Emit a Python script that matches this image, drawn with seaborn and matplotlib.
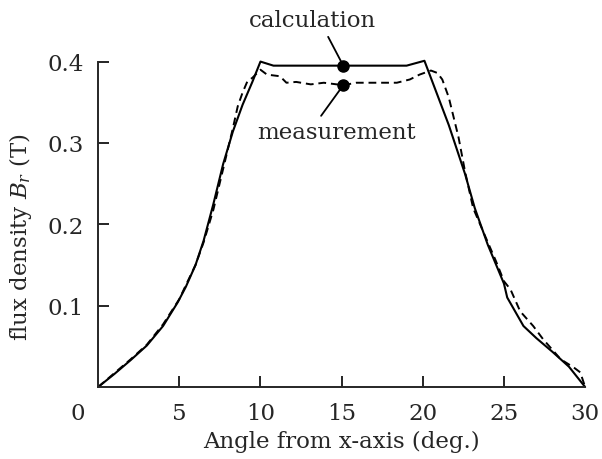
import numpy as np
import pandas as pd
import seaborn as sns
import matplotlib.pyplot as plt
from matplotlib.transforms import ScaledTranslation

# calculation (solid line)
calc_x = [0, 1, 2, 3, 4, 4.9, 5.4, 6.0, 6.5, 7.1, 7.7, 8.3, 8.9, 9.5, 10.0,
          10.8, 19.0, 20.1, 21.6, 22.6, 23.2, 24.0, 25.0, 25.2, 26.2, 27.0,
          28.0, 29.0, 30.0]
calc_y = [0, 0.016, 0.033, 0.051, 0.075, 0.104, 0.123, 0.150, 0.180, 0.225,
          0.274, 0.314, 0.347, 0.375, 0.400, 0.395, 0.395, 0.401, 0.322,
          0.262, 0.220, 0.175, 0.127, 0.110, 0.075, 0.060, 0.043, 0.025, 0.0]

# measurement (dashed line)
meas_x = [0, 1, 2, 3, 4, 5, 5.4, 6.0, 6.5, 7.1, 7.7, 8.3, 8.6, 8.9, 9.2,
          9.5, 10.0, 10.4, 11.2, 11.6, 12.2, 13.1, 13.9, 15.1, 15.9, 16.8,
          17.8, 18.4, 19.2, 19.8, 20.5, 20.9, 21.2, 21.6, 22.2, 22.6, 23.1,
          23.7, 24.5, 25.0, 25.4, 26.0, 26.8, 27.4, 28.5, 29.3, 29.7, 30]
meas_y = [0, 0.017, 0.034, 0.052, 0.077, 0.108, 0.125, 0.150, 0.178, 0.218,
          0.268, 0.318, 0.345, 0.362, 0.376, 0.380, 0.390, 0.384, 0.382,
          0.374, 0.375, 0.372, 0.374, 0.371, 0.374, 0.374, 0.374, 0.374,
          0.378, 0.384, 0.389, 0.386, 0.378, 0.356, 0.307, 0.265, 0.220,
          0.192, 0.155, 0.130, 0.120, 0.093, 0.075, 0.059, 0.034, 0.024,
          0.018, 0.0]

# annotation points
ann_labels = ["calculation", "measurement"]
ann_x = [15.1, 15.1]
ann_y = [0.395, 0.371]

x_ticks = [0, 5, 10, 15, 20, 25, 30]
y_ticks = [0.1, 0.2, 0.3, 0.4]

sns.set_style("ticks")
plt.rcParams['font.family'] = ['DejaVu Serif']
plt.rcParams['mathtext.fontset'] = 'dejavuserif'
fs = 16.5

fig = plt.figure(figsize=(6.02, 4.6), dpi=100)
ax = fig.add_axes([0.163, 0.1565, 0.809, 0.7605])

df_calc = pd.DataFrame({"angle": calc_x, "B": calc_y})
df_meas = pd.DataFrame({"angle": meas_x, "B": meas_y})
sns.lineplot(data=df_calc, x="angle", y="B", ax=ax, color="black",
             linewidth=1.5, sort=False, clip_on=False)
sns.lineplot(data=df_meas, x="angle", y="B", ax=ax, color="black",
             linewidth=1.4, dashes=False, sort=False, clip_on=False,
             linestyle=(0, (4, 2.5)))

ax.plot(ann_x, ann_y, "o", color="black", markersize=8, zorder=5)
ax.annotate(ann_labels[0], xy=(ann_x[0], ann_y[0]), xytext=(13.2, 0.451),
            textcoords="data", ha="center", va="center", fontsize=fs,
            annotation_clip=False,
            arrowprops=dict(arrowstyle="-", color="black", lw=1.3,
                            relpos=(0.6, 0.0), shrinkA=2, shrinkB=0))
ax.annotate(ann_labels[1], xy=(ann_x[1], ann_y[1]), xytext=(14.66, 0.313),
            textcoords="data", ha="center", va="center", fontsize=fs,
            arrowprops=dict(arrowstyle="-", color="black", lw=1.3,
                            relpos=(0.38, 1.0), shrinkA=2, shrinkB=0))

ax.set_xlim(0, 30)
ax.set_ylim(0, 0.43)
ax.set_xticks(x_ticks)
ax.set_yticks(y_ticks)
ax.set_xticklabels([str(t) for t in x_ticks])
ax.set_yticklabels(["%.1f" % t for t in y_ticks])
ax.tick_params(axis="both", direction="in", length=8, width=1.2,
               labelsize=fs, color="black")
ax.tick_params(axis="x", pad=11)
ax.tick_params(axis="y", pad=10)
for t in ax.xaxis.get_major_ticks():
    if t.get_loc() in (0, 30):
        t.tick1line.set_visible(False)
lbl0 = ax.get_xticklabels()[0]
lbl0.set_transform(lbl0.get_transform() + ScaledTranslation(-0.2, 0, fig.dpi_scale_trans))

sns.despine(ax=ax)
ax.spines["left"].set_bounds(0, 0.4)
ax.spines["left"].set_linewidth(1.4)
ax.spines["bottom"].set_linewidth(1.4)

ax.set_xlabel("Angle from x-axis (deg.)", fontsize=fs, labelpad=4)
ax.set_ylabel("flux density $B_r$ (T)", fontsize=fs)
ax.yaxis.set_label_coords(-0.132, 0.431)

fig.savefig("out.png", dpi=100)
